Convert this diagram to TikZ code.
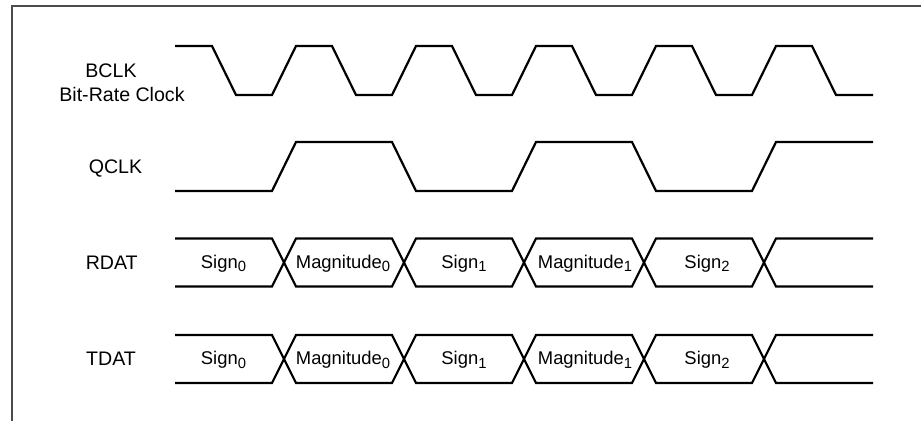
\documentclass[tikz,border=0pt]{standalone}
\usepackage{fontspec}
\setmainfont{Liberation Sans}
\newcommand{\lsub}[1]{\raisebox{-0.35ex}{\fontsize{7.4}{9}\selectfont #1}}
\tikzstyle{signame} = [anchor=base, inner sep=0pt, font=\fontsize{9.8}{12}\selectfont]
\tikzstyle{cell} = [anchor=base, inner sep=0pt, font=\fontsize{9.2}{11}\selectfont]
\tikzstyle{wave} = [line width=1.1pt]
\tikzstyle{frame} = [line width=1pt, draw=black!70]
\begin{document}
\begin{tikzpicture}[x=0.5pt, y=-0.5pt]
				\useasboundingbox (0,0) rectangle (921,421);
				\draw [frame] (12,421) -- (12,6) -- (921,6);
				
				\node (bclk)[signame] at (111,77.3) {BCLK};
				\node (bitrate)[signame] at (122,101.7) {Bit-Rate Clock};
				\node (qclk)[signame] at (115.5,173.5) {QCLK};
				\node (rdat)[signame] at (111.7,270) {RDAT};
				\node (tdat)[signame] at (111,366) {TDAT};
				
				\draw [wave] (175,46) foreach \x in {212,332,452,572,692} { -- (\x,46) -- ++(24,49) -- ++(36,0) -- ++(24,-49) } -- (812,46) -- (836,95) -- (873,95);
				\draw [wave] (175,191) -- (272,191) -- (296,142) -- (392,142) -- (416,191) -- (512,191) -- (536,142) -- (632,142) -- (656,191) -- (752,191) -- (776,142) -- (873,142);
				
				\foreach \row/\top in {rdat/238.5, tdat/335} {
					\draw [wave] (175,\top) foreach \x in {272,392,512,632,752} { -- (\x,\top) -- ++(12,24) -- ++(12,-24) } -- (873,\top);
					\draw [wave] (175,\top+48) foreach \x in {272,392,512,632,752} { -- (\x,\top+48) -- ++(12,-24) -- ++(12,24) } -- (873,\top+48);
					\node (\row0)[cell] at (223.5,\top+30) {Sign\lsub{0}};
					\node (\row1)[cell] at (343,\top+30) {Magnitude\lsub{0}};
					\node (\row2)[cell] at (464,\top+30) {Sign\lsub{1}};
					\node (\row3)[cell] at (585,\top+30) {Magnitude\lsub{1}};
					\node (\row4)[cell] at (707,\top+30) {Sign\lsub{2}};
				}
			\end{tikzpicture}
\end{document}
